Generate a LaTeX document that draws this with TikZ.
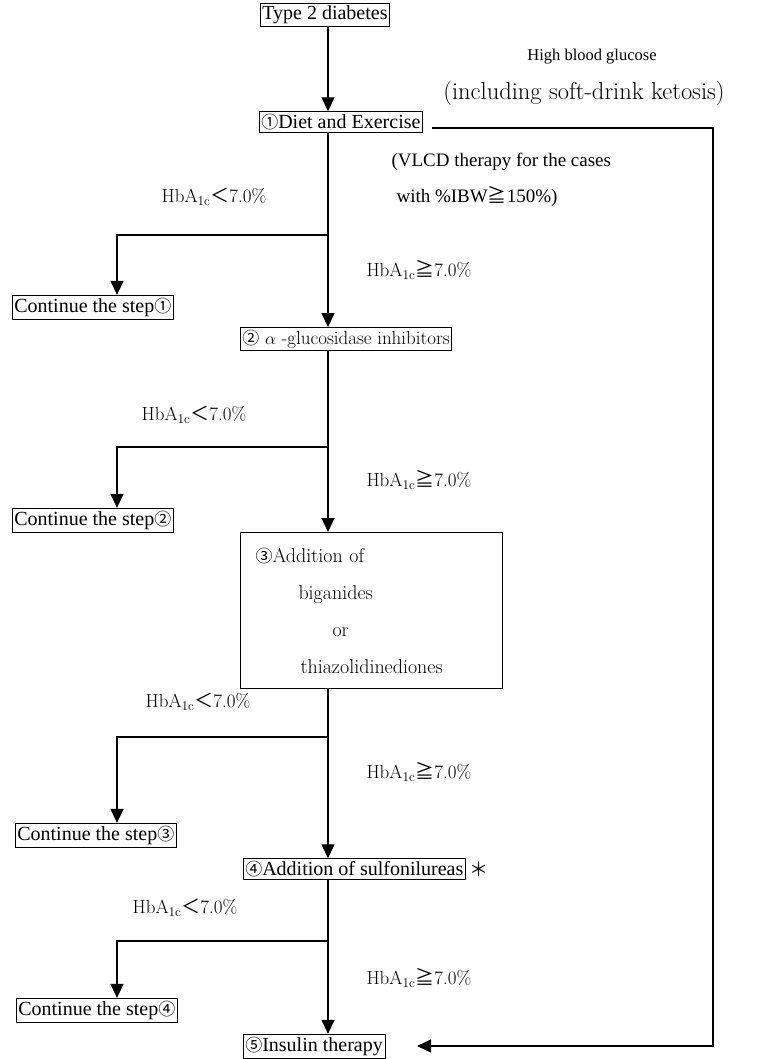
\documentclass[tikz,border=0pt]{standalone}
\usepackage{fontspec}
\newfontfamily\tms{Liberation Serif}
\newfontfamily\cjk{Noto Sans CJK JP}
\usetikzlibrary{arrows.meta,calc}

\newcommand{\hba}{HbA\textsubscript{1c}}
\newcommand{\cnum}[1]{{\cjk\fontsize{17}{17}\selectfont #1}}

\begin{document}
\begin{tikzpicture}[x=1pt,y=-1pt,
  box/.style={draw,line width=0.6pt,inner xsep=2pt,inner ysep=2.5pt,anchor=west,
    font=\tms\fontsize{20}{22}\selectfont},
  lbl/.style={font=\fontsize{19}{21}\selectfont},
  link/.style={line width=1.3pt},
  flow/.style={link,-{Triangle[length=14pt,width=13pt]}}]
  \useasboundingbox (0,0) rectangle (771,1059);

  \coordinate (ax) at (328,0);
  \coordinate (lx) at (117,0);

  % main steps
  \node[box] (t2d) at (260,15) {Type 2 diabetes};
  \node[box] (s1) at (259,122) {\cnum{①}Diet and Exercise};
  \node[box,font=\fontsize{19}{21}\selectfont] (s2) at (240,339) {\cnum{②} $\alpha$ -glucosidase inhibitors};
  \node[draw,line width=1pt,anchor=north west,minimum width=262pt,minimum height=156pt,
    inner xsep=15pt,text width=232pt,align=left,font=\fontsize{20}{37}\selectfont]
    (s3) at (240,532) {\cnum{③}Addition of\\\hspace*{43pt}biganides\\\hspace*{77pt}or\\\hspace*{45pt}thiazolidinediones};
  \node[box] (s4) at (243,869) {\cnum{④}Addition of sulfonilureas};
  \node[anchor=west,font=\cjk\fontsize{19}{21}\selectfont] (ast) at (s4.east) {＊};
  \node[box] (s5) at (243,1046) {\cnum{⑤}Insulin therapy};

  % side boxes
  \node[box] (c1) at (12,307) {Continue the step\cnum{①}};
  \node[box] (c2) at (12,520) {Continue the step\cnum{②}};
  \node[box] (c3) at (15,835) {Continue the step\cnum{③}};
  \node[box] (c4) at (16,1010) {Continue the step\cnum{④}};

  % branch points
  \coordinate (b1) at (328,235);
  \coordinate (b2) at (328,447);
  \coordinate (b3) at (328,737);
  \coordinate (b4) at (328,941);

  \draw[flow] (t2d.south -| ax) -- (s1.north -| ax);
  \foreach \a/\b/\c/\p in {s1/s2/c1/b1, s2/s3/c2/b2, s3/s4/c3/b3, s4/s5/c4/b4} {
    \draw[link] (\a.south -| ax) -- (\p);
    \draw[flow] (\p) -- (\b.north -| ax);
    \draw[flow] (\p) -| (\c.north -| lx);
  }

  % labels
  \node[lbl] (lt1) at (214,197) {\hba{\cjk ＜}7.0\%};
  \node[lbl] (lt2) at (194,415) {\hba{\cjk ＜}7.0\%};
  \node[lbl] (lt3) at (198,702) {\hba{\cjk ＜}7.0\%};
  \node[lbl] (lt4) at (185,908) {\hba{\cjk ＜}7.0\%};
  \node[lbl,anchor=west] (ge1) at (363,270) {\hba{\cjk ≧}7.0\%};
  \node[lbl,anchor=west] (ge2) at (363,480) {\hba{\cjk ≧}7.0\%};
  \node[lbl,anchor=west] (ge3) at (363,772) {\hba{\cjk ≧}7.0\%};
  \node[lbl,anchor=west] (ge4) at (363,978) {\hba{\cjk ≧}7.0\%};

  \node[font=\tms\fontsize{19}{21}\selectfont,anchor=west] (vlcd1) at (388,162) {(VLCD therapy for the cases};
  \node[font=\tms\fontsize{19}{21}\selectfont,anchor=west] (vlcd2) at (393,196) {with \%IBW{\cjk ≧}150\%)};

  % high glucose path
  \node[font=\tms\fontsize{16.5}{18}\selectfont] (hbg) at (592,57) {High blood glucose};
  \node[font=\fontsize{24.5}{26}\selectfont] (keto) at (584,93) {(including soft-drink ketosis)};
  \coordinate (r0) at (432,128);
  \coordinate (r1) at (713,128);
  \coordinate (r2) at (417,1046);
  \draw[flow] (r0) -- (r1) |- (r2);
\end{tikzpicture}
\end{document}
